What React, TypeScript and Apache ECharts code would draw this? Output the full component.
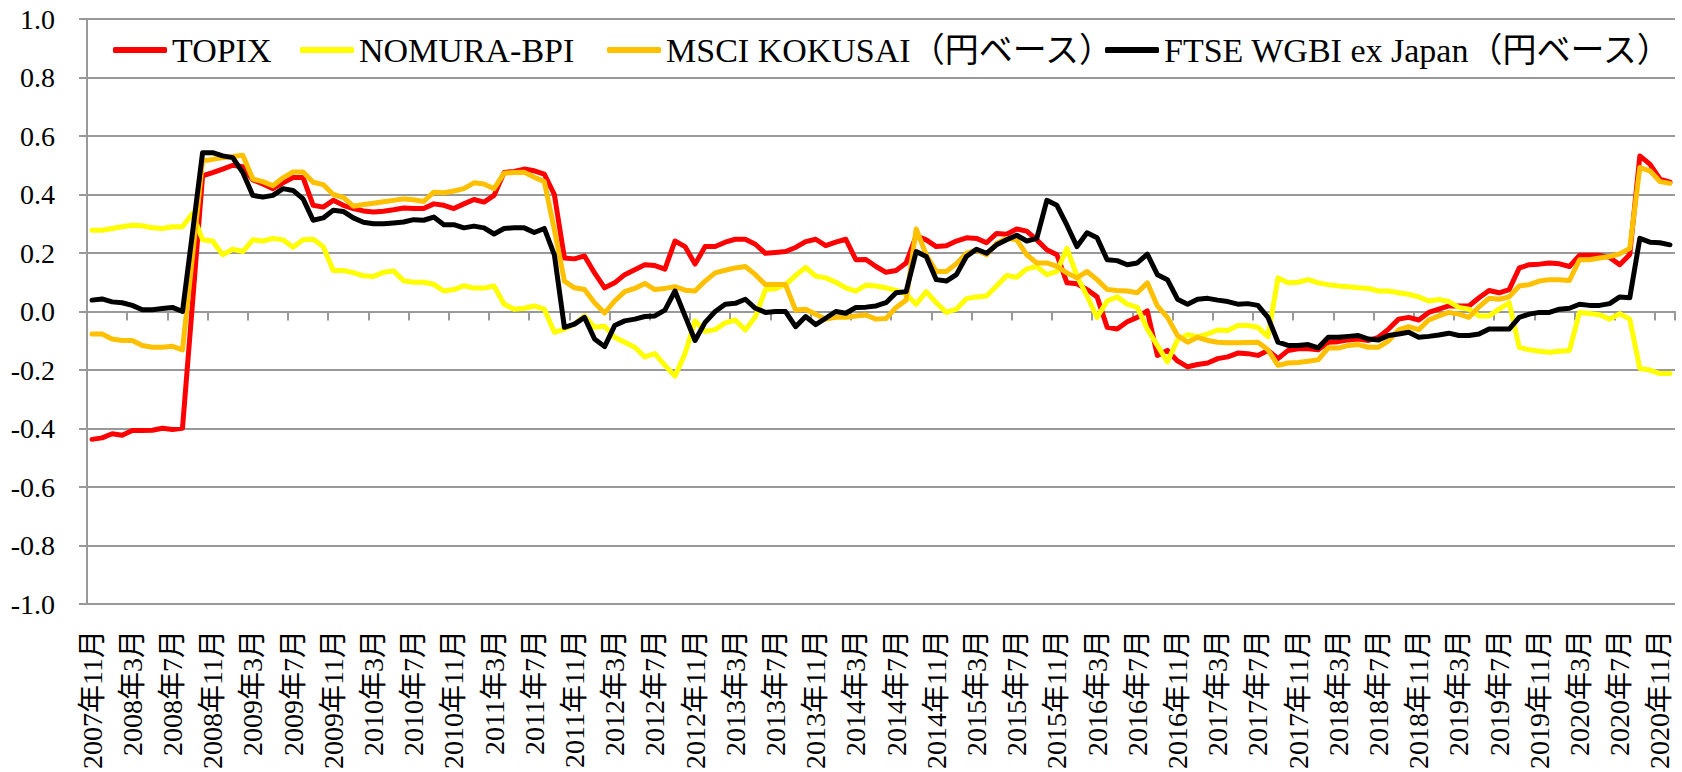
import React, { useEffect, useRef } from 'react';
import * as echarts from 'echarts';

// Monthly categories: 2007年11月 .. 2020年12月 (158 months)
const START_YEAR = 2007;
const START_MONTH = 11;
const MONTH_COUNT = 158;
const categories: string[] = [];
for (let k = 0; k < MONTH_COUNT; k++) {
  const m0 = START_MONTH - 1 + k;
  const y = START_YEAR + Math.floor(m0 / 12);
  const m = (m0 % 12) + 1;
  categories.push(`${y}年${m}月`);
}

const seriesNames = [
  'TOPIX',
  'NOMURA-BPI',
  'MSCI KOKUSAI（円ベース）',
  'FTSE WGBI ex Japan（円ベース）',
];
const seriesColors = ['#FF0000', '#FFFF00', '#FFC000', '#000000'];
const legendLefts = [113, 300, 607, 1105];

const topix = [
  -0.437, -0.432, -0.418, -0.423, -0.407, -0.407, -0.406, -0.399, -0.403, -0.399,
  0.03, 0.464, 0.475, 0.487, 0.5, 0.495, 0.45, 0.436, 0.42, 0.44,
  0.458, 0.458, 0.363, 0.357, 0.38, 0.363, 0.352, 0.344, 0.34, 0.343,
  0.348, 0.354, 0.352, 0.352, 0.368, 0.363, 0.352, 0.368, 0.383, 0.374,
  0.397, 0.475, 0.479, 0.487, 0.481, 0.47, 0.4, 0.183, 0.18, 0.19,
  0.132, 0.081, 0.098, 0.126, 0.143, 0.16, 0.157, 0.145, 0.241, 0.222,
  0.162, 0.222, 0.222, 0.237, 0.247, 0.247, 0.23, 0.199, 0.202, 0.205,
  0.219, 0.239, 0.247, 0.225, 0.237, 0.247, 0.177, 0.178, 0.154, 0.134,
  0.14, 0.166, 0.259, 0.245, 0.222, 0.225, 0.241, 0.252, 0.25, 0.235,
  0.267, 0.264, 0.282, 0.275, 0.245, 0.211, 0.194, 0.098, 0.095, 0.075,
  0.05, -0.054, -0.06, -0.035, -0.02, 0.002, -0.15, -0.133, -0.169, -0.189,
  -0.181, -0.176, -0.161, -0.155, -0.142, -0.144, -0.15, -0.133, -0.161, -0.133,
  -0.127, -0.127, -0.131, -0.105, -0.103, -0.097, -0.094, -0.099, -0.088, -0.06,
  -0.026, -0.02, -0.029, -0.003, 0.008, 0.019, 0.019, 0.019, 0.047, 0.072,
  0.064, 0.075, 0.149, 0.16, 0.162, 0.166, 0.163, 0.154, 0.192, 0.192,
  0.192, 0.185, 0.16, 0.195, 0.532, 0.504, 0.453, 0.442,
];

const nomuraBpi = [
  0.278, 0.278, 0.284, 0.29, 0.295, 0.293, 0.286, 0.284, 0.29, 0.29,
  0.335, 0.245, 0.241, 0.194, 0.213, 0.205, 0.245, 0.241, 0.25, 0.245,
  0.22, 0.245, 0.247, 0.222, 0.14, 0.14, 0.133, 0.122, 0.12, 0.134,
  0.139, 0.105, 0.1, 0.1, 0.093, 0.07, 0.075, 0.088, 0.08, 0.08,
  0.087, 0.025, 0.008, 0.011, 0.019, 0.008, -0.071, -0.06, -0.043, -0.015,
  -0.054, -0.05, -0.088, -0.105, -0.122, -0.155, -0.144, -0.184, -0.221, -0.144,
  -0.032, -0.068, -0.062, -0.039, -0.029, -0.063, -0.018, 0.075, 0.078, 0.092,
  0.123, 0.151, 0.121, 0.115, 0.1, 0.081, 0.07, 0.09, 0.087, 0.081,
  0.072, 0.059, 0.025, 0.068, 0.03, -0.003, 0.008, 0.044, 0.05, 0.053,
  0.087, 0.123, 0.117, 0.146, 0.154, 0.126, 0.137, 0.216, 0.121, 0.053,
  -0.02, 0.036, 0.05, 0.025, 0.014, -0.06, -0.116, -0.172, -0.097, -0.079,
  -0.086, -0.077, -0.063, -0.065, -0.048, -0.048, -0.054, -0.086, 0.115, 0.098,
  0.1, 0.109, 0.098, 0.092, 0.087, 0.085, 0.081, 0.079, 0.07, 0.07,
  0.064, 0.059, 0.05, 0.036, 0.041, 0.034, 0.014, 0.008, -0.015, -0.015,
  0.008, 0.03, -0.122, -0.131, -0.136, -0.139, -0.136, -0.133, -0.003, -0.007,
  -0.011, -0.026, -0.007, -0.026, -0.195, -0.2, -0.212, -0.212,
];

const msciKokusai = [
  -0.077, -0.077, -0.094, -0.099, -0.099, -0.116, -0.122, -0.122, -0.119, -0.131,
  0.19, 0.515, 0.52, 0.526, 0.53, 0.534, 0.453, 0.444, 0.43, 0.457,
  0.477, 0.477, 0.442, 0.434, 0.4, 0.39, 0.36, 0.366, 0.37, 0.375,
  0.38, 0.385, 0.382, 0.376, 0.408, 0.406, 0.412, 0.42, 0.44, 0.436,
  0.42, 0.473, 0.475, 0.476, 0.459, 0.444, 0.28, 0.104, 0.081, 0.075,
  0.03, -0.005, 0.036, 0.068, 0.079, 0.096, 0.075, 0.079, 0.085, 0.073,
  0.07, 0.104, 0.132, 0.141, 0.149, 0.154, 0.126, 0.092, 0.092, 0.092,
  0.005, 0.008, -0.009, -0.026, -0.02, -0.02, -0.015, -0.012, -0.026, -0.024,
  0.014, 0.039, 0.282, 0.194, 0.137, 0.137, 0.163, 0.199, 0.211, 0.194,
  0.233, 0.25, 0.245, 0.194, 0.166, 0.166, 0.154, 0.132, 0.115, 0.137,
  0.109, 0.075, 0.072, 0.07, 0.064, 0.098, 0.019, -0.02, -0.082, -0.105,
  -0.088, -0.099, -0.105, -0.107, -0.107, -0.106, -0.105, -0.131, -0.184, -0.176,
  -0.174, -0.17, -0.165, -0.124, -0.125, -0.116, -0.113, -0.122, -0.122, -0.1,
  -0.063, -0.052, -0.062, -0.029, -0.015, -0.003, -0.009, -0.02, 0.016, 0.045,
  0.042, 0.05, 0.087, 0.092, 0.104, 0.109, 0.109, 0.106, 0.177, 0.177,
  0.183, 0.188, 0.197, 0.216, 0.492, 0.481, 0.444, 0.438,
];

const ftseWgbi = [
  0.039, 0.043, 0.033, 0.03, 0.021, 0.006, 0.006, 0.01, 0.014, 0.0,
  0.27, 0.543, 0.543, 0.532, 0.526, 0.475, 0.397, 0.391, 0.397, 0.42,
  0.414, 0.385, 0.312, 0.32, 0.346, 0.342, 0.32, 0.305, 0.3, 0.3,
  0.303, 0.306, 0.314, 0.312, 0.323, 0.297, 0.297, 0.286, 0.292, 0.286,
  0.265, 0.284, 0.286, 0.286, 0.27, 0.284, 0.194, -0.054, -0.043, -0.02,
  -0.094, -0.12, -0.048, -0.032, -0.026, -0.017, -0.015, 0.005, 0.07, -0.015,
  -0.099, -0.037, 0.0, 0.025, 0.028, 0.042, 0.011, -0.003, 0.0, 0.0,
  -0.052, -0.017, -0.045, -0.023, 0.0, -0.006, 0.014, 0.015, 0.019, 0.03,
  0.064, 0.068, 0.205, 0.188, 0.109, 0.104, 0.126, 0.188, 0.213, 0.199,
  0.228, 0.245, 0.261, 0.241, 0.25, 0.38, 0.363, 0.295, 0.222, 0.269,
  0.252, 0.177, 0.174, 0.16, 0.166, 0.196, 0.126, 0.109, 0.042, 0.025,
  0.042, 0.045, 0.039, 0.034, 0.025, 0.027, 0.021, -0.02, -0.105, -0.116,
  -0.116, -0.113, -0.124, -0.088, -0.088, -0.085, -0.082, -0.094, -0.097, -0.082,
  -0.077, -0.071, -0.088, -0.085, -0.08, -0.074, -0.082, -0.082, -0.077, -0.06,
  -0.06, -0.06, -0.02, -0.009, -0.003, -0.003, 0.008, 0.011, 0.025, 0.021,
  0.021, 0.027, 0.05, 0.047, 0.25, 0.237, 0.235, 0.228,
];

const seriesData = [topix, nomuraBpi, msciKokusai, ftseWgbi];

const FONT = '"Liberation Serif", "Noto Sans CJK JP", serif';
const GRID_COLOR = '#999999';

export default function App() {
  const ref = useRef<HTMLDivElement>(null);

  useEffect(() => {
    if (!ref.current) return;
    const chart = echarts.init(ref.current, undefined, { renderer: 'svg' });
    const option = {
      animation: false,
      backgroundColor: '#ffffff',
      grid: { left: 87, right: 7, top: 19, bottom: 163, containLabel: false },
      legend: seriesNames.map((n, idx) => ({
        left: legendLefts[idx],
        top: 33,
        padding: 0,
        itemWidth: 54,
        itemHeight: 6,
        selectedMode: false,
        textStyle: { fontFamily: FONT, fontSize: 34, color: '#000000' },
        data: [{ name: n, icon: 'roundRect' }],
      })),
      xAxis: [
        {
          type: 'category',
          data: categories,
          position: 'bottom',
          boundaryGap: true,
          axisLine: { show: true, onZero: true, lineStyle: { color: GRID_COLOR, width: 2 } },
          axisTick: { show: true, interval: 3, length: 9, lineStyle: { color: GRID_COLOR, width: 2 } },
          axisLabel: { show: false },
          splitLine: { show: false },
        },
        {
          type: 'category',
          data: categories,
          position: 'bottom',
          boundaryGap: true,
          axisLine: { show: false, onZero: false },
          axisTick: { show: false },
          axisLabel: {
            show: true,
            interval: 3,
            rotate: 90,
            margin: 26,
            fontFamily: FONT,
            fontSize: 28,
            color: '#000000',
          },
          splitLine: { show: false },
        },
      ],
      yAxis: {
        type: 'value',
        min: -1,
        max: 1,
        interval: 0.2,
        axisLine: { show: true, lineStyle: { color: GRID_COLOR, width: 2 } },
        axisTick: { show: true, length: 8, lineStyle: { color: GRID_COLOR, width: 2 } },
        axisLabel: {
          margin: 32,
          fontFamily: FONT,
          fontSize: 28,
          color: '#000000',
          formatter: (v: number) => v.toFixed(1),
        },
        splitLine: { show: true, lineStyle: { color: GRID_COLOR, width: 2 } },
      },
      series: seriesNames.map((name, idx) => ({
        name,
        type: 'line',
        xAxisIndex: 0,
        data: seriesData[idx],
        showSymbol: false,
        symbol: 'none',
        color: seriesColors[idx],
        itemStyle: { color: seriesColors[idx] },
        lineStyle: { color: seriesColors[idx], width: 5, cap: 'round', join: 'round' },
        emphasis: { disabled: true },
      })),
    };
    chart.setOption(option as any);
    return () => {
      chart.dispose();
    };
  }, []);

  return (
    <div
      ref={ref}
      style={{ position: 'fixed', left: 0, top: 0, width: 1682, height: 772, background: '#fff' }}
    />
  );
}
